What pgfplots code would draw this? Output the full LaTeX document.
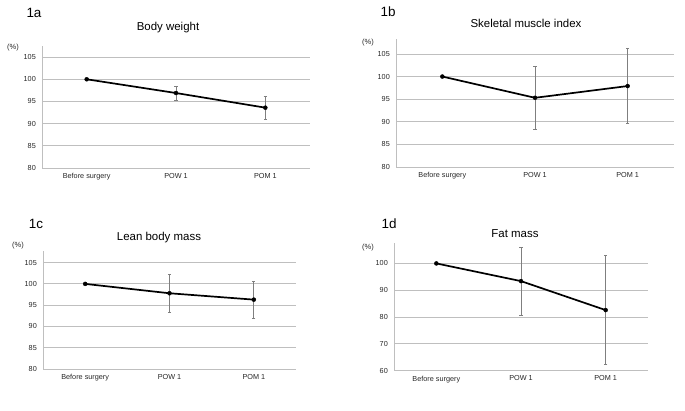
\documentclass[border=0pt]{standalone}
\usepackage{pgfplots}
\pgfplotsset{compat=1.18}
\usepackage{fontspec}
\setmainfont{Liberation Sans}
\definecolor{gridc}{HTML}{BFBFBF}
\definecolor{errc}{HTML}{7F7F7F}
\definecolor{txt}{HTML}{262626}
\pgfplotsset{panel/.style={
  scale only axis, anchor=south west,
  xmin=-0.5, xmax=2.5, xtick={0,1,2},
  xticklabels={Before surgery,POW 1,POM 1},
  axis x line*=bottom, axis y line*=left,
  axis line style={gridc, line width=0.8bp},
  major tick length=0pt,
  ymajorgrids, grid style={gridc, line width=0.8bp},
  /pgf/number format/assume math mode=true,
  tick label style={font=\fontsize{7.3}{8}\selectfont, text=txt},
  yticklabel style={inner sep=0pt, xshift=-6bp},
  xticklabel style={inner sep=0pt, yshift=-5bp},
  clip=false},
  ser/.style={black, line width=1.7bp, mark=*, mark size=2bp,
  mark options={line width=0.4bp},
  error bars/.cd, y dir=both, y explicit,
  error bar style={errc, line width=0.7bp},
  error mark options={rotate=90, mark size=1.6bp, errc, line width=0.7bp}}
}
\begin{document}
\begin{tikzpicture}
\path[use as bounding box] (0,0) rectangle (685bp,-411bp);
% 1a
\begin{axis}[panel, at={(42bp,-168bp)}, width=268bp, height=122bp,
  ymin=80, ymax=107.5, ytick={80,85,90,95,100,105}]
\addplot[ser] coordinates {(0,100) +- (0,0) (1,96.9) +- (0,1.6) (2,93.6) +- (0,2.6)};
\end{axis}
% 1b
\begin{axis}[panel, at={(396bp,-167bp)}, width=278bp, height=128bp,
  ymin=80, ymax=108.3, ytick={80,85,90,95,100,105}]
\addplot[ser] coordinates {(0,100) +- (0,0) (1,95.3) +- (0,7.0) (2,97.9) +- (0,8.3)};
\end{axis}
% 1c
\begin{axis}[panel, at={(43bp,-369bp)}, width=253bp, height=118.3bp,
  ymin=80, ymax=107.8, ytick={80,85,90,95,100,105}]
\addplot[ser] coordinates {(0,100) +- (0,0) (1,97.8) +- (0,4.45) (2,96.3) +- (0,4.35)};
\end{axis}
% 1d
\begin{axis}[panel, at={(394bp,-370.7bp)}, width=254bp, height=127.4bp,
  ymin=60, ymax=107.5, ytick={60,70,80,90,100}]
\addplot[ser] coordinates {(0,100) +- (0,0) (1,93.4) +- (0,12.7) (2,82.6) +- (0,20.3)};
\end{axis}
% titles and labels
\begin{scope}[every node/.style={inner sep=0pt, text=black}]
\node[font=\fontsize{11.5}{13}\selectfont] at (168bp,-28bp) {Body weight};
\node[font=\fontsize{11.5}{13}\selectfont] at (526bp,-23bp) {Skeletal muscle index};
\node[font=\fontsize{11.5}{13}\selectfont] at (159bp,-238bp) {Lean body mass};
\node[font=\fontsize{11.5}{13}\selectfont] at (515bp,-234bp) {Fat mass};
\node[font=\fontsize{13.5}{15}\selectfont] at (34bp,-13bp) {1a};
\node[font=\fontsize{13.5}{15}\selectfont] at (388bp,-12bp) {1b};
\node[font=\fontsize{13.5}{15}\selectfont] at (36bp,-224bp) {1c};
\node[font=\fontsize{13.5}{15}\selectfont] at (389bp,-224bp) {1d};
\node[font=\fontsize{7.5}{8}\selectfont, text=txt] at (13bp,-48bp) {(\%)};
\node[font=\fontsize{7.5}{8}\selectfont, text=txt] at (368bp,-43bp) {(\%)};
\node[font=\fontsize{7.5}{8}\selectfont, text=txt] at (18bp,-246bp) {(\%)};
\node[font=\fontsize{7.5}{8}\selectfont, text=txt] at (368bp,-248bp) {(\%)};
\end{scope}
\end{tikzpicture}
\end{document}
